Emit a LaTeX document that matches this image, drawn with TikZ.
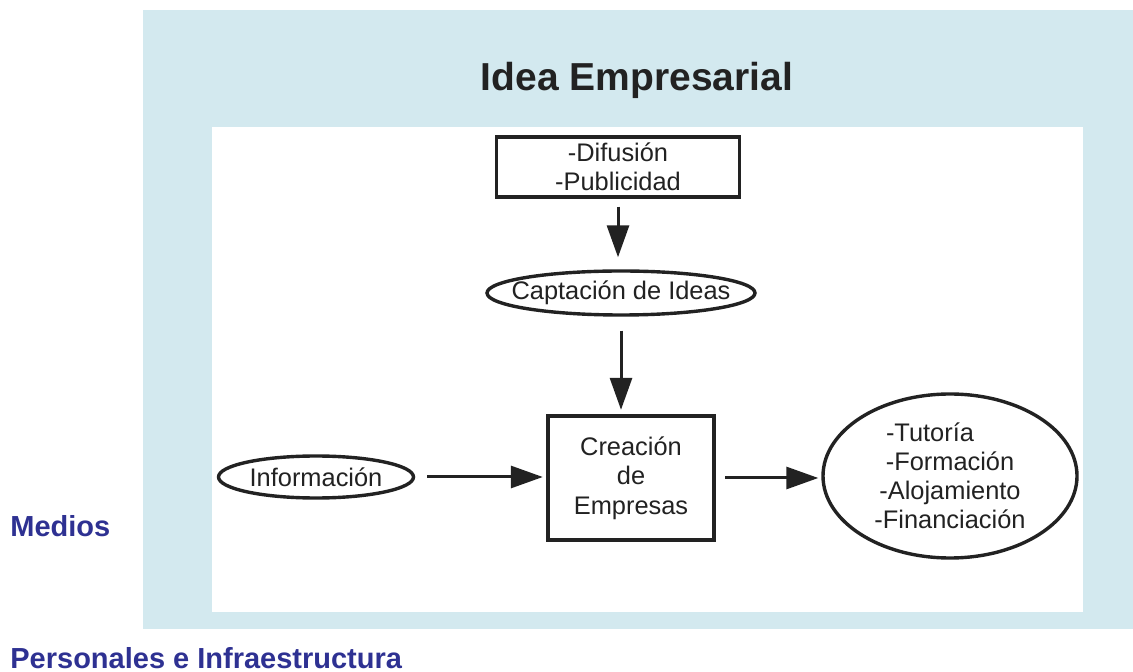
\documentclass[tikz,border=0pt]{standalone}
\usepackage{fontspec}
\setmainfont{Liberation Sans}
\usepackage{xcolor}
\usepackage{tikz}
\usetikzlibrary{arrows.meta,shapes.geometric}
\definecolor{fondo}{HTML}{D3E9EF}
\definecolor{azul}{HTML}{2E3192}
\definecolor{tinta}{HTML}{222222}
\tikzset{
  caja/.style={draw=tinta,line width=1.7pt,rectangle,align=center,text=tinta,
    font=\fontsize{12.7}{14.5}\selectfont,inner sep=0pt},
  elipse/.style={draw=tinta,line width=1.7pt,ellipse,align=center,text=tinta,
    font=\fontsize{12.7}{14.5}\selectfont,inner xsep=-20pt,inner ysep=-4pt},
  flecha/.style={draw=tinta,line width=1.5pt,-{Triangle[length=16pt,width=11pt]}},
  rotulo/.style={text=azul,font=\fontsize{14.5}{16}\selectfont\bfseries,anchor=base west,inner sep=0pt}
}
\begin{document}
\begin{tikzpicture}[x=0.5pt,y=-0.5pt]
    \useasboundingbox (0,0) rectangle (1133,672);
    % fondo
    \fill[fondo] (143,10) rectangle (1133,629);
    \fill[white] (212,127) rectangle (1083,612);
    \node[text=tinta,font=\fontsize{19.5}{22}\selectfont\bfseries,anchor=base] (titulo)
      at (637,91) {Idea Empresarial};
    % nodos
    \node[caja,minimum width=121.5pt,minimum height=30pt] (difusion) at (618,167)
      {-Difusión\\-Publicidad};
    \node[elipse,minimum width=134pt,minimum height=22pt] (captacion) at (621,293)
      {Captación de Ideas};
    \node[caja,line width=2.2pt,minimum width=83pt,minimum height=62pt,
      font=\fontsize{12.7}{14.8}\selectfont] (creacion) at (631,478)
      {Creación\\de\\Empresas};
    \node[elipse,minimum width=97.5pt,minimum height=21pt] (informacion) at (316,477)
      {Información};
    \node[elipse,minimum width=127pt,minimum height=82pt,
      font=\fontsize{12.7}{14.5}\selectfont] (servicios) at (950,476)
      {\hspace*{-20pt}-Tutoría\\-Formación\\-Alojamiento\\-Financiación};
    % flechas
    \draw[flecha,shorten <=4pt,shorten >=6pt] (difusion.south) -- (difusion.south |- captacion.north);
    \draw[flecha,shorten <=7pt,shorten >=2pt] (captacion.south) -- (captacion.south |- creacion.north);
    \draw[flecha,shorten <=6pt,shorten >=1.5pt] (informacion.east) -- (informacion.east -| creacion.west);
    \draw[flecha,shorten <=4.5pt,shorten >=1.5pt] (creacion) -- (servicios.west |- creacion);
    % rotulos
    \node[rotulo] (medios) at (10,537) {Medios};
    \node[rotulo] (personales) at (10,668) {Personales e Infraestructura};
\end{tikzpicture}
\end{document}
